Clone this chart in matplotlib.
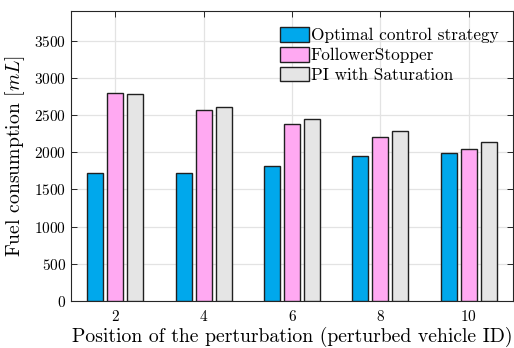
import matplotlib
matplotlib.use("Agg")
import matplotlib.pyplot as plt
import numpy as np

plt.rcParams['font.family'] = 'serif'
plt.rcParams['font.serif'] = ['cmr10']
plt.rcParams['mathtext.fontset'] = 'cm'
plt.rcParams['axes.formatter.use_mathtext'] = True

# data
vehicle_ids = [2, 4, 6, 8, 10]
optimal = [1720, 1715, 1810, 1950, 1990]
follower_stopper = [2800, 2575, 2375, 2200, 2040]
pi_saturation = [2785, 2610, 2445, 2290, 2140]
labels = ['Optimal control strategy', 'FollowerStopper', 'PI with Saturation']
colors = ['#00A8EC', '#FFA9F2', '#E5E5E5']

fig = plt.figure(figsize=(5.14, 3.48), dpi=100)
ax = fig.add_axes([71 / 514, 47 / 348, 442 / 514, 290 / 348])

x = np.array(vehicle_ids, dtype=float)
w = 0.36
off = 0.453
for i, (vals, lab, c) in enumerate(zip([optimal, follower_stopper, pi_saturation], labels, colors)):
    ax.bar(x + (i - 1) * off, vals, width=w, color=c, edgecolor='#202020',
           linewidth=1.0, label=lab, zorder=3)

ax.set_xlim(1, 11)
ax.set_ylim(0, 3900)
ax.set_xticks(vehicle_ids)
ax.set_yticks(np.arange(0, 3501, 500))
ax.grid(True, color='#E3E3E3', linewidth=0.9, zorder=0)
ax.tick_params(direction='in', top=True, right=True, labelsize=11,
               length=4, width=0.7, color='#262626')
ax.tick_params(axis='x', pad=6)
for s in ax.spines.values():
    s.set_color('#262626')
    s.set_linewidth(0.8)

ax.set_xlabel('Position of the perturbation (perturbed vehicle ID)', fontsize=14.2, labelpad=2)
ax.set_ylabel('Fuel consumption [$mL$]', fontsize=14.2, labelpad=5)

ax.legend(loc='upper right', frameon=False, fontsize=12.4, handlelength=1.7,
          handleheight=0.9, handletextpad=0.1, labelspacing=0.22,
          bbox_to_anchor=(0.995, 0.985), borderaxespad=0.3)

fig.savefig('out.png', dpi=100)
